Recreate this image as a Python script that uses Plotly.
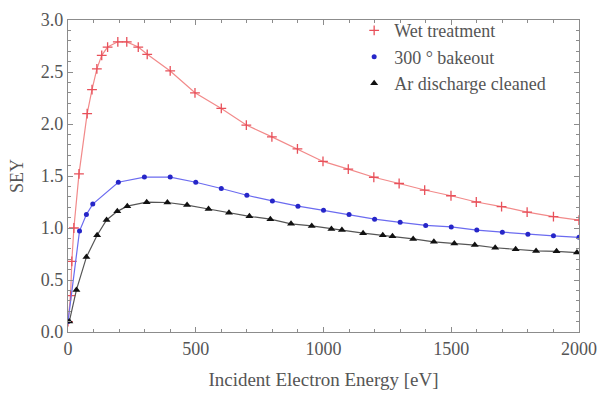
import plotly.graph_objects as go

# Secondary electron yield vs incident electron energy for three surface treatments
wet_energy = [0, 10, 15, 23, 43, 75, 94, 113, 132, 155, 195, 230, 275, 310, 400, 497,
              600, 698, 798, 898, 998, 1097, 1197, 1296, 1396, 1499, 1598, 1697, 1797, 1900, 2000]
wet_sey = [0.10, 0.35, 0.68, 1.00, 1.52, 2.10, 2.33, 2.53, 2.66, 2.74, 2.79, 2.79, 2.74, 2.67, 2.51, 2.30,
           2.15, 1.99, 1.876, 1.76, 1.64, 1.566, 1.488, 1.428, 1.365, 1.31, 1.25, 1.206, 1.153, 1.11, 1.075]

bake_energy = [0, 45, 72, 97, 197, 299, 400, 500, 600, 700, 800, 900, 1000, 1100, 1200,
               1300, 1400, 1500, 1600, 1700, 1800, 1900, 2000]
bake_sey = [0.10, 0.97, 1.13, 1.23, 1.44, 1.49, 1.49, 1.44, 1.38, 1.315, 1.26, 1.21, 1.17, 1.13, 1.085,
            1.055, 1.025, 1.01, 0.98, 0.96, 0.94, 0.925, 0.91]

ar_energy = [5, 33, 72, 114, 151, 193, 232, 308, 389, 466, 550, 630, 710, 792, 873, 954, 1031, 1072,
             1155, 1232, 1270, 1351, 1432, 1512, 1592, 1672, 1752, 1832, 1912, 1992]
ar_sey = [0.10, 0.405, 0.72, 0.93, 1.077, 1.16, 1.21, 1.248, 1.245, 1.22, 1.183, 1.147, 1.112, 1.085,
          1.04, 1.02, 0.99, 0.98, 0.95, 0.93, 0.92, 0.895, 0.867, 0.85, 0.836, 0.81, 0.795, 0.78, 0.776, 0.764]

series_names = ["Wet treatment", "300 \u00b0 bakeout", "Ar discharge cleaned"]

x_ticks = [0, 500, 1000, 1500, 2000]
y_ticks = [0.0, 0.5, 1.0, 1.5, 2.0, 2.5, 3.0]

styles = [
    dict(line=dict(color="#f28a8a", width=1.2),
         marker=dict(symbol="cross-thin", size=7, line=dict(color="#e8505a", width=1.3))),
    dict(line=dict(color="#6b6bf0", width=1.2),
         marker=dict(symbol="circle", size=5, color="#2626c8")),
    dict(line=dict(color="#555555", width=1.2),
         marker=dict(symbol="triangle-up", size=7, color="#111111")),
]
datasets = [(wet_energy, wet_sey), (bake_energy, bake_sey), (ar_energy, ar_sey)]

fig = go.Figure()
for (xs, ys), name, st in zip(datasets, series_names, styles):
    fig.add_trace(go.Scatter(x=xs, y=ys, name=name, mode="lines+markers",
                             line=st["line"], marker=st["marker"], showlegend=False))
# Legend entries show the plot markers alone
for name, st in zip(series_names, styles):
    fig.add_trace(go.Scatter(x=[None], y=[None], name=name, mode="markers",
                             marker=st["marker"], showlegend=True))

axis_common = dict(
    showline=True, linecolor="#8c8c8c", linewidth=1.2, mirror="allticks",
    ticks="inside", ticklen=5, tickcolor="#8c8c8c", showgrid=False, zeroline=False,
    tickfont=dict(family="Liberation Serif", size=18, color="#555555"),
)

fig.update_xaxes(
    range=[0, 2000], tickvals=x_ticks, ticktext=[str(v) for v in x_ticks],
    minor=dict(dtick=100, ticks="inside", ticklen=3, tickcolor="#8c8c8c"),
    title=dict(text="Incident Electron Energy [eV]", standoff=14,
               font=dict(family="Liberation Serif", size=19, color="#555555")),
    **axis_common,
)
fig.update_yaxes(
    range=[0, 3.0], tickvals=y_ticks, ticktext=[f"{v:.1f}" for v in y_ticks],
    minor=dict(dtick=0.1, ticks="inside", ticklen=3, tickcolor="#8c8c8c"),
    title=dict(text="SEY", standoff=12,
               font=dict(family="Liberation Serif", size=18, color="#555555")),
    **axis_common,
)

fig.update_layout(
    width=607, height=396,
    margin=dict(l=68, r=18, t=10, b=64),
    paper_bgcolor="white", plot_bgcolor="white",
    showlegend=True,
    legend=dict(x=0.56, y=1.025, xanchor="left", yanchor="top",
                bgcolor="rgba(0,0,0,0)", tracegroupgap=0, itemwidth=30,
                font=dict(family="Liberation Serif", size=18, color="#555555")),
)

fig.write_html("out.html")
